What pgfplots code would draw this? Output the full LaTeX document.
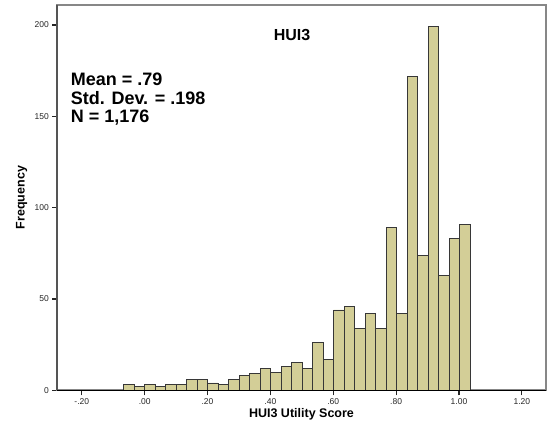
\documentclass[border=0pt]{standalone}
\usepackage{pgfplots}
\pgfplotsset{compat=1.18}
\usepackage{fontspec}
\setmainfont{Liberation Sans}
\definecolor{barfill}{RGB}{211,206,151}
\definecolor{baredge}{RGB}{55,55,55}
\definecolor{framegray}{RGB}{135,135,135}
\definecolor{leftgray}{RGB}{85,85,85}
\begin{document}
\begin{tikzpicture}
\begin{axis}[
 name=ax, at={(0,0)}, anchor=south west,
 scale only axis, width=488.4pt, height=385.3pt,
 xmin=-0.278, xmax=1.276, ymin=0, ymax=210.9,
 axis lines=box,
 axis line style={draw=framegray, line width=2pt},
 clip=false,
 xtick pos=bottom, ytick pos=left,
 xtick={-0.2,0,0.2,0.4,0.6,0.8,1.0,1.2},
 xticklabels={-.20,.00,.20,.40,.60,.80,1.00,1.20},
 ytick={0,50,100,150,200},
 yticklabels={0,50,100,150,200},
 tick align=outside, major tick length=5pt,
 tick style={black!85, line width=1.2pt},
 ticklabel style={font=\fontsize{8.5}{10}\selectfont, text=black!85},
 /pgf/number format/assume math mode=true,
 xlabel={HUI3 Utility Score}, ylabel={Frequency},
 label style={font=\bfseries\fontsize{12.5}{14}\selectfont},
 xlabel style={at={(axis description cs:0.5,0)}, anchor=north, yshift=-18pt, inner sep=0pt},
 ylabel style={at={(axis description cs:0,0.5)}, anchor=south, yshift=30pt, inner sep=0pt},
]
\addplot[ybar interval, fill=barfill, draw=baredge, line width=0.8pt] coordinates {
(-0.0675,3) (-0.03405,2) (-0.0006,3) (0.03285,2) (0.0663,3) (0.09975,3)
(0.1332,6) (0.16665,6) (0.2001,4) (0.23355,3) (0.267,6) (0.30045,8)
(0.3339,9) (0.36735,12) (0.4008,10) (0.43425,13) (0.4677,15) (0.50115,12)
(0.5346,26) (0.56805,17) (0.6015,44) (0.63495,46) (0.6684,34) (0.70185,42)
(0.7353,34) (0.76875,89) (0.8022,42) (0.83565,172) (0.8691,74) (0.90255,199)
(0.936,63) (0.96945,83) (1.0029,91) (1.03635,0)
};
\draw[leftgray, line width=2pt] (rel axis cs:0,0) -- (rel axis cs:0,1);
\draw[black, line width=1.4pt] (rel axis cs:0,0) -- (rel axis cs:1,0);
\node[font=\bfseries\fontsize{16}{18}\selectfont, anchor=base, inner sep=0pt] at (axis cs:0.469,191.2) {HUI3};
\node[font=\bfseries\fontsize{18}{20}\selectfont, anchor=base west, inner sep=0pt] at (axis cs:-0.2355,166.6) {Mean = .79};
\node[font=\bfseries\fontsize{18}{20}\selectfont, anchor=base west, inner sep=0pt] at (axis cs:-0.2355,156.6) {Std. Dev. = .198};
\node[font=\bfseries\fontsize{18}{20}\selectfont, anchor=base west, inner sep=0pt] at (axis cs:-0.2355,146.5) {N = 1,176};
\end{axis}
\path (ax.south west) ++(-57.3pt,-43.7pt) coordinate (bl);
\path (ax.north east) ++(7.3pt,5pt) coordinate (tr);
\pgfresetboundingbox
\path (bl) rectangle (tr);
\end{tikzpicture}
\end{document}
